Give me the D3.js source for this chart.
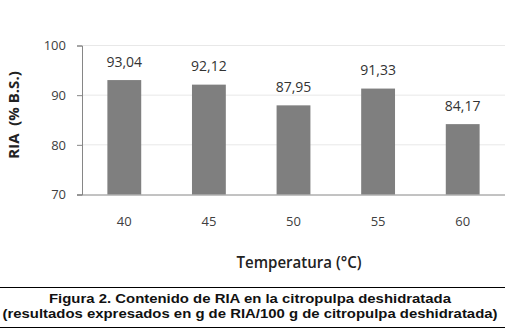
<!DOCTYPE html>
<html><head><meta charset="utf-8">
<script src="https://cdn.jsdelivr.net/npm/d3@7"></script>
<style>body{margin:0;background:#fff}svg{display:block}</style>
</head><body>
<script>
const categories = ["40","45","50","55","60"];
const values = [93.04, 92.12, 87.95, 91.33, 84.17];
const valueLabels = ["93,04","92,12","87,95","91,33","84,17"];
const yTicks = [70, 80, 90, 100];
const yTitle = "RIA  (% B.S.)";
const xTitle = "Temperatura (°C)";
const caption = ["Figura 2. Contenido de RIA en la citropulpa deshidratada",
                 "(resultados expresados en g de RIA/100 g de citropulpa deshidratada)"];

const W = 509, H = 335;
const svg = d3.select("body").append("svg").attr("width", W).attr("height", H);
const m = {left: 82, right: 4, top: 45.5, bottom: 194.5};
const x = d3.scaleBand().domain(categories).range([m.left, W - m.right]).paddingInner(0.6).paddingOuter(0.3);
const y = d3.scaleLinear().domain([70, 100]).range([m.bottom, m.top]);
const font = "'Open Sans', sans-serif";

// gridlines
svg.append("g").selectAll("line").data(yTicks.slice(1)).join("line")
  .attr("x1", m.left).attr("x2", W - m.right)
  .attr("y1", d => y(d)).attr("y2", d => y(d))
  .attr("stroke", "#e8e8e8").attr("stroke-width", 1);

// bars
svg.append("g").selectAll("rect").data(values).join("rect")
  .attr("x", (d, i) => x(categories[i])).attr("width", x.bandwidth())
  .attr("y", d => y(d)).attr("height", d => y(70) - y(d))
  .attr("fill", "#7f7f7f");

// value labels
svg.append("g").selectAll("text").data(values).join("text")
  .attr("x", (d, i) => x(categories[i]) + x.bandwidth() / 2)
  .attr("y", d => y(d) - 13.5)
  .attr("text-anchor", "middle").attr("font-family", font).attr("font-size", 14)
  .attr("fill", "#333").text((d, i) => valueLabels[i]);

// y axis
const ya = svg.append("g").attr("transform", `translate(${m.left},0)`)
  .call(d3.axisLeft(y).tickValues(yTicks).tickSize(5).tickPadding(11).tickFormat(d3.format("d")));
ya.select(".domain").attr("stroke", "#868686");
ya.selectAll(".tick line").attr("stroke", "#868686");
ya.selectAll("text").attr("font-family", font).attr("font-size", 13).attr("fill", "#404040");

// x axis
const xa = svg.append("g").attr("transform", `translate(0,${m.bottom})`)
  .call(d3.axisBottom(x).tickSize(0).tickPadding(22));
xa.select(".domain").attr("stroke", "#868686").attr("d", `M${m.left - 5},0.5H${W - m.right}`);
xa.selectAll("text").attr("font-family", font).attr("font-size", 13).attr("fill", "#404040");

// titles
svg.append("text").attr("transform", "translate(19,115) rotate(-90)")
  .attr("text-anchor", "middle").attr("font-family", font).attr("font-weight", "bold")
  .attr("font-size", 15).attr("fill", "#222").attr("xml:space", "preserve").text(yTitle);
svg.append("text").attr("x", 299).attr("y", 268)
  .attr("text-anchor", "middle").attr("font-family", font).attr("font-weight", 600)
  .attr("font-size", 17).attr("textLength", 125).attr("lengthAdjust", "spacingAndGlyphs")
  .attr("fill", "#222").text(xTitle);

// caption
svg.append("line").attr("x1", 0).attr("x2", 505).attr("y1", 287.5).attr("y2", 287.5).attr("stroke", "#000");
svg.append("line").attr("x1", 0).attr("x2", 505).attr("y1", 327.5).attr("y2", 327.5).attr("stroke", "#000");
const capLen = [402, 495];
svg.append("g").selectAll("text").data(caption).join("text")
  .attr("x", 250).attr("y", (d, i) => 302.5 + i * 15.5)
  .attr("text-anchor", "middle").attr("font-family", "'Liberation Sans', Arial, sans-serif")
  .attr("textLength", (d, i) => capLen[i]).attr("lengthAdjust", "spacingAndGlyphs")
  .attr("font-weight", "bold").attr("font-size", 13).attr("fill", "#111").text(d => d);
</script>
</body></html>
